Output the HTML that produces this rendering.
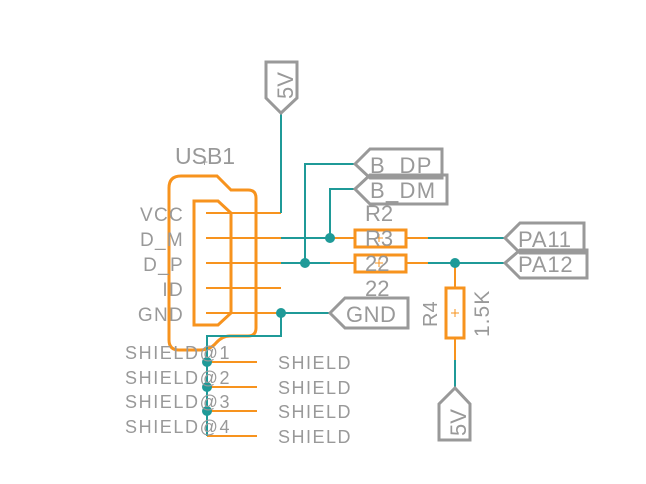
<!DOCTYPE html>
<html><head><style>body{margin:0;background:#fff}svg{display:block}text{font-family:"Liberation Sans",sans-serif;fill:#999}</style></head><body>
<svg width="646" height="484" viewBox="0 0 646 484">
<g fill="none" stroke="#f7931e" stroke-width="3">
<path d="M169,340 V188 Q169,176 181,176 H217 L231,190 H248 Q256,190 256,198 V328 Q256,336 248,336 H230 Q222,336 216,343 Q210,350 200,350 H179 Q169,350 169,340 Z"/>
<path d="M194,201 H218 L231,213 V313 L218,325 H194 Z"/>
<rect x="355" y="230" width="51" height="17"/>
<rect x="355" y="255" width="51" height="17"/>
<rect x="446" y="288" width="18" height="50"/>
</g>
<g stroke="#f7931e" stroke-width="2">
<path d="M206,213H281M206,238H281M206,263H281M206,288H281M206,313H281"/>
<path d="M330,238H355M406,238H428M330,263H355M406,263H428M455,263V288M455,338V360"/>
<path d="M207,362H257M207,387H257M207,411H257M207,436H257"/>
<path d="M375,238h8M379,234v8M375,263h8M379,259v8M451,313h8M455,309v8" stroke-width="1"/>
</g>
<g stroke="#1f9a98" stroke-width="2" fill="none">
<path d="M281,213V113"/>
<path d="M281,238H330M281,263H330"/>
<path d="M305,263V164H355M330,238V189H355"/>
<path d="M428,238H505M428,263H505M455,360V388"/>
<path d="M281,313H330M281,313V336H207V436"/>
</g>
<g fill="#1f9a98">
<circle cx="330" cy="238" r="5"/><circle cx="305" cy="263" r="5"/><circle cx="281" cy="313" r="5"/><circle cx="455" cy="263" r="5"/>
<circle cx="207" cy="362" r="5"/><circle cx="207" cy="387" r="5"/><circle cx="207" cy="411" r="5"/>
</g>
<g fill="none" stroke="#999" stroke-width="3">
<path d="M266,62H297V98L281,113L266,98Z"/>
<path d="M439,440H470V404L455,388L439,404Z"/>
<path d="M355,164L370,149H442V178H370Z"/>
<path d="M355,189L370,175H447V204H370Z"/>
<path d="M330,313L345,298H408V328H345Z"/>
<path d="M505,238L520,223H584V253H520Z"/>
<path d="M505,263L520,250H587V278H520Z"/>
</g>
<g font-size="19" letter-spacing="1.3" text-anchor="end">
<text x="184" y="221">VCC</text><text x="184" y="246">D_M</text><text x="184" y="271">D_P</text><text x="184" y="296">ID</text><text x="184" y="321">GND</text>
</g>
<text x="175" y="164" font-size="23">USB1</text>
<text x="201" y="166" font-size="12">+</text>
<g font-size="22">
<text x="370" y="173" letter-spacing="1.3">B_DP</text><text x="370" y="198" letter-spacing="1.3">B_DM</text>
<text x="346" y="322" letter-spacing="0.5">GND</text>
<text x="518" y="247" letter-spacing="0.8">PA11</text><text x="518" y="272" letter-spacing="0.8">PA12</text>
<text x="365" y="221">R2</text><text x="365" y="246">R3</text><text x="365" y="271">22</text><text x="365" y="296">22</text>
<text transform="translate(293,99) rotate(-90)">5V</text>
<text transform="translate(466,436) rotate(-90)">5V</text>
<text transform="translate(437,327) rotate(-90)" font-size="20">R4</text>
<text transform="translate(489,337) rotate(-90)" font-size="21" letter-spacing="1">1.5K</text>
</g>
<g font-size="18" letter-spacing="1.6">
<text x="125" y="359">SHIELD@1</text><text x="125" y="384">SHIELD@2</text><text x="125" y="408">SHIELD@3</text><text x="125" y="433">SHIELD@4</text>
<text x="278" y="369" letter-spacing="1.5">SHIELD</text><text x="278" y="394" letter-spacing="1.5">SHIELD</text><text x="278" y="418" letter-spacing="1.5">SHIELD</text><text x="278" y="443" letter-spacing="1.5">SHIELD</text>
</g>
</svg>
</body></html>
